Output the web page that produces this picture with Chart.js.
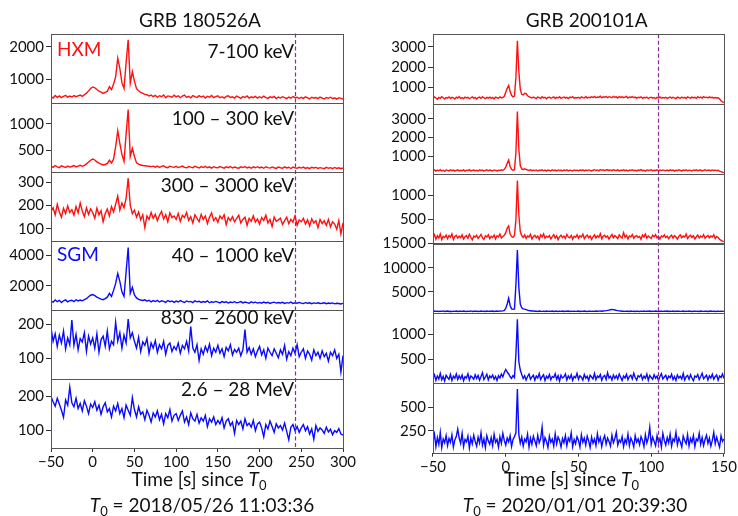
<!DOCTYPE html>
<html>
<head>
<meta charset="utf-8">
<script src="https://cdn.jsdelivr.net/npm/chart.js@4.4.1/dist/chart.umd.min.js"></script>
<style>
  body { margin: 0; background: #fff; width: 738px; height: 516px; position: relative; overflow: hidden; }
  .col { position: absolute; top: 0; width: 369px; height: 516px; }
</style>
</head>
<body>
<div class="col" style="left:0"><canvas id="grb18" width="369" height="516"></canvas></div>
<div class="col" style="left:369px"><canvas id="grb20" width="369" height="516"></canvas></div>
<script>
// ---- GRB 180526A (left column), time in s since T0 ----
const leftTimes = [
  -50,-47.5,-45,-42.5,-40,-37.5,-35,-32.5,-30,-27.5,
  -25,-22.5,-20,-17.5,-15,-12.5,-10,-7.5,-5,-2.5,
  0,2.5,5,7.5,10,12.5,15,17.5,20,22.5,
  25,27.5,30,32.5,35,37.5,40,42.5,45,47.5,
  50,52.5,55,57.5,60,62.5,65,67.5,70,72.5,
  75,77.5,80,82.5,85,87.5,90,92.5,95,97.5,
  100,102.5,105,107.5,110,112.5,115,117.5,120,122.5,
  125,127.5,130,132.5,135,137.5,140,142.5,145,147.5,
  150,152.5,155,157.5,160,162.5,165,167.5,170,172.5,
  175,177.5,180,182.5,185,187.5,190,192.5,195,197.5,
  200,202.5,205,207.5,210,212.5,215,217.5,220,222.5,
  225,227.5,230,232.5,235,237.5,240,242.5,245,247.5,
  250,252.5,255,257.5,260,262.5,265,267.5,270,272.5,
  275,277.5,280,282.5,285,287.5,290,292.5,295,297.5,
  300
];
const hxm7to100_18 = [
  470,430,505,450,495,440,480,510,455,490,
  460,505,470,495,520,480,530,580,650,720,
  770,745,690,640,610,570,600,640,780,690,
  860,1080,1650,1340,900,720,1500,2220,880,1240,
  950,720,650,600,570,540,530,490,520,470,
  510,455,500,470,525,440,495,480,455,515,
  465,500,440,490,520,450,480,435,505,470,
  445,500,460,490,430,485,455,510,440,475,
  495,440,470,425,480,500,445,465,430,490,
  455,420,475,445,495,430,465,440,480,425,
  470,435,490,445,420,465,440,480,415,460,
  430,470,445,410,460,425,475,440,455,415,
  450,420,465,435,405,455,425,445,410,460,
  430,400,445,420,455,410,435,395,440,420,
  400
];
const hxm100to300_18 = [
  195,175,210,185,170,205,190,172,200,180,
  192,210,185,200,215,195,215,240,275,310,
  333,315,280,255,235,220,230,250,310,260,
  330,569,868,630,420,287,800,1270,380,535,
  380,260,235,220,210,205,200,196,190,198,
  180,200,172,195,205,178,170,198,185,176,
  195,172,186,200,175,166,192,180,170,196,
  178,164,190,172,195,168,184,160,188,172,
  166,190,175,160,186,170,192,164,182,168,
  160,186,172,190,164,180,158,184,168,188,
  164,180,158,186,170,162,184,168,156,180,
  168,158,184,164,178,154,180,166,160,176,
  162,180,156,172,152,178,164,174,154,170,
  162,150,176,158,170,152,174,156,168,150,
  165
];
const hxm300to3000_18 = [
  175,190,160,205,172,150,188,165,198,170,
  182,158,195,168,210,176,152,190,162,185,
  170,145,188,160,178,130,165,185,155,195,
  172,205,240,180,210,190,230,317,200,165,
  180,150,172,138,160,105,155,140,170,145,
  162,135,158,175,142,160,130,168,148,155,
  140,165,132,158,148,170,136,152,125,160,
  145,130,162,140,155,122,150,168,135,148,
  128,155,142,160,118,148,135,152,130,145,
  158,125,140,150,115,145,132,155,128,142,
  120,148,135,158,125,140,110,150,132,138,
  145,118,135,150,122,140,128,155,115,138,
  130,145,120,138,112,142,125,135,105,140,
  122,135,115,140,108,130,120,98,135,78,
  125
];
const sgm40to1000_18 = [
  990,920,1060,950,1040,900,1010,1070,940,1020,
  1050,960,1080,1000,1060,1010,1090,1150,1280,1380,
  1420,1350,1250,1180,1120,1080,1150,1250,1500,1300,
  1700,2160,2820,2300,1600,1300,2900,4530,1500,1900,
  1400,1200,1100,1060,1030,1080,990,1050,940,1020,
  960,1040,930,1010,970,900,1030,950,1000,910,
  990,930,1020,950,900,1000,940,970,890,1010,
  940,980,900,960,920,1000,880,950,910,970,
  920,870,960,900,940,860,930,890,950,880,
  910,960,870,930,890,850,940,880,920,860,
  900,850,930,870,910,840,890,920,860,900,
  870,910,840,890,860,920,830,880,850,900,
  860,830,890,850,880,820,870,840,880,830,
  850,880,820,860,830,870,810,850,830,800,
  840
];
const sgm830to2600_18 = [
  190,150,172,135,168,145,180,128,160,140,
  212,138,170,125,158,148,175,120,165,142,
  160,130,172,118,155,165,135,180,128,150,
  140,206,150,175,130,168,145,215,160,175,
  150,130,162,120,148,138,158,115,145,130,
  152,118,140,128,150,112,138,145,120,135,
  125,145,115,138,128,150,122,193,130,118,
  140,94,128,112,135,120,142,108,130,118,
  138,115,128,105,132,122,140,110,126,118,
  130,108,125,184,118,132,112,128,105,122,
  135,110,125,100,130,118,108,128,115,102,
  125,112,138,98,120,108,130,115,140,105,
  118,128,100,122,112,95,125,108,118,100,
  122,105,115,92,118,108,125,100,112,60,
  108
];
const sgm2600to28000_18 = [
  200,185,172,195,178,160,139,190,175,228,
  182,170,195,165,180,158,188,172,150,178,
  168,185,160,175,148,170,182,155,165,140,
  172,158,180,150,165,138,175,160,145,197,
  162,140,170,148,155,132,160,145,125,152,
  140,158,132,148,120,150,138,162,128,145,
  150,130,145,158,125,140,118,152,135,128,
  148,122,138,128,145,112,135,125,140,118,
  130,120,138,108,128,135,115,125,92,130,
  118,128,105,135,115,122,110,130,100,120,
  125,108,82,118,105,128,112,95,120,108,
  115,102,122,98,73,110,118,100,112,95,
  108,118,100,112,90,105,75,115,98,108,
  102,92,110,96,104,88,100,95,106,90,
  87
];

// ---- GRB 200101A (right column), 1 s bins ----
const rightTimes = [
  -50,-49,-48,-47,-46,-45,-44,-43,-42,-41,
  -40,-39,-38,-37,-36,-35,-34,-33,-32,-31,
  -30,-29,-28,-27,-26,-25,-24,-23,-22,-21,
  -20,-19,-18,-17,-16,-15,-14,-13,-12,-11,
  -10,-9,-8,-7,-6,-5,-4,-3,-2,-1,
  0,1,2,3,4,5,6,7,8,9,
  10,11,12,13,14,15,16,17,18,19,
  20,21,22,23,24,25,26,27,28,29,
  30,31,32,33,34,35,36,37,38,39,
  40,41,42,43,44,45,46,47,48,49,
  50,51,52,53,54,55,56,57,58,59,
  60,61,62,63,64,65,66,67,68,69,
  70,71,72,73,74,75,76,77,78,79,
  80,81,82,83,84,85,86,87,88,89,
  90,91,92,93,94,95,96,97,98,99,
  100,101,102,103,104,105,106,107,108,109,
  110,111,112,113,114,115,116,117,118,119,
  120,121,122,123,124,125,126,127,128,129,
  130,131,132,133,134,135,136,137,138,139,
  140,141,142,143,144,145,146,147,148,149,
  150
];
const hxmA_20 = [
  440,520,470,410,500,455,530,480,420,495,
  465,525,440,500,475,415,510,460,535,450,
  490,430,515,470,505,440,480,525,455,500,
  420,485,510,450,530,470,435,500,465,515,
  450,495,420,510,480,460,525,470,500,550,
  750,950,1085,800,600,520,560,1500,3300,1800,
  900,650,620,700,680,580,540,500,470,520,
  480,440,515,490,455,530,470,505,430,495,
  510,460,485,525,445,500,470,535,455,490,
  520,465,500,440,510,480,530,455,495,470,
  505,450,525,490,470,540,460,510,485,530,
  495,545,480,520,500,555,475,530,510,545,
  490,535,515,480,550,505,525,470,540,500,
  530,485,515,545,470,520,495,535,480,510,
  460,505,485,525,450,500,470,515,445,490,
  510,460,495,435,500,475,520,455,490,470,
  505,445,485,520,460,500,475,440,510,480,
  455,515,470,500,440,525,485,460,510,475,
  500,450,530,480,515,465,540,490,510,470,
  525,485,505,460,495,470,480,420,330,280,
  240
];
const hxmB_20 = [
  230,270,205,255,220,280,210,250,195,265,
  240,215,275,225,260,200,245,270,215,250,
  225,265,205,255,235,280,215,245,260,220,
  250,210,270,230,255,205,240,275,220,260,
  235,205,265,240,215,255,230,270,245,300,
  420,620,800,450,300,250,280,1200,3400,1400,
  500,320,280,330,300,260,245,275,225,255,
  230,265,210,250,240,275,220,255,205,260,
  245,215,270,230,255,210,265,235,250,220,
  260,230,275,215,250,240,205,265,235,255,
  220,260,240,275,210,255,230,265,245,215,
  250,280,235,265,220,285,245,270,230,260,
  275,240,265,225,280,250,235,270,215,255,
  240,270,225,260,210,255,245,275,230,250,
  215,260,240,280,225,250,205,265,235,255,
  270,220,250,240,275,210,260,230,265,245,
  225,255,215,270,240,260,205,250,235,275,
  245,215,260,230,270,220,255,240,210,265,
  235,275,225,250,260,215,245,270,230,255,
  250,225,265,240,255,230,245,205,170,140,
  120
];
const hxmC_20 = [
  140,190,95,165,120,200,85,155,130,180,
  105,170,135,205,90,150,175,115,160,125,
  185,100,145,170,115,195,135,80,160,140,
  175,110,150,195,125,90,165,140,185,105,
  155,130,180,100,165,140,200,120,150,175,
  230,320,370,200,150,135,170,500,1309,600,
  250,170,130,185,110,160,140,195,100,150,
  175,125,160,90,185,140,205,115,155,135,
  170,100,150,190,120,165,85,145,180,130,
  160,110,195,140,125,175,95,155,135,185,
  115,165,140,200,105,150,180,125,160,90,
  145,185,120,165,135,210,100,155,175,130,
  160,95,150,195,125,170,140,105,185,145,
  120,230,135,175,100,160,145,190,115,155,
  170,130,150,90,180,140,200,120,160,135,
  110,175,145,190,125,155,95,165,140,185,
  130,160,105,150,180,120,170,140,95,155,
  185,125,160,140,200,110,150,175,130,165,
  100,145,180,120,160,135,190,115,150,170,
  125,160,140,185,110,150,130,95,70,55,
  45
];
const sgmA_20 = [
  1000,1060,980,1030,950,1040,990,1070,960,1020,
  1050,970,1010,940,1030,990,1060,960,1000,1040,
  980,1050,1000,960,1030,990,1070,950,1020,1000,
  1040,970,1010,1060,980,1020,950,1050,990,1030,
  1000,1060,970,1020,1050,990,1080,1040,1100,1200,
  1600,2500,3700,2200,1500,1400,1500,6500,13660,6000,
  2500,1700,1500,1450,1350,1250,1150,1100,1050,1080,
  1000,1040,970,1060,1010,980,1030,960,1050,990,
  1020,980,1050,970,1010,1040,960,1030,990,1060,
  970,1020,1000,1050,960,1030,990,1040,980,1010,
  1050,970,1020,990,1060,1000,960,1040,1010,980,
  1030,990,1060,1010,1040,1070,1020,1060,1090,1130,
  1180,1250,1320,1370,1340,1270,1200,1130,1080,1050,
  1010,1040,980,1030,1000,970,1050,990,1020,960,
  1040,1000,970,1030,990,1060,980,1020,1000,1050,
  960,1030,990,1060,1000,970,1040,1010,980,1030,
  1000,1050,970,1020,990,1060,960,1030,1000,1040,
  980,1010,1050,970,1030,990,1060,1000,960,1020,
  1040,990,1020,970,1050,1000,980,1030,1010,960,
  1020,1050,990,1030,970,1000,1040,980,1010,990,
  1000
];
const sgmB_20 = [
  120,185,75,160,100,210,85,150,60,175,
  130,95,190,70,155,115,200,90,165,105,
  180,65,145,120,205,80,160,135,95,185,
  110,170,75,150,225,90,140,195,80,160,
  125,180,95,150,70,165,120,200,140,230,
  290,240,200,150,110,170,130,600,1300,450,
  280,190,110,165,80,150,200,95,140,175,
  75,160,120,210,90,145,185,70,155,115,
  190,85,150,130,205,95,165,60,175,120,
  145,200,80,160,110,185,70,150,125,215,
  95,165,135,80,190,115,155,70,175,140,
  100,210,85,160,130,190,75,145,170,90,
  225,120,155,80,180,110,165,95,200,135,
  70,160,120,195,85,150,175,100,215,130,
  80,165,140,190,90,155,115,200,75,170,
  130,95,185,115,160,70,150,205,100,140,
  175,85,160,125,195,90,150,70,180,120,
  155,100,210,80,145,170,95,185,120,65,
  160,135,190,90,150,215,105,140,175,80,
  165,120,195,95,145,180,75,160,130,200,
  110
];
const sgmC_20 = [
  140,215,85,180,110,235,75,165,125,200,
  95,170,130,210,80,155,190,270,175,120,
  225,85,160,135,195,70,175,115,205,140,
  90,185,125,230,100,165,75,200,145,110,
  180,95,215,130,160,80,190,120,225,150,
  100,175,135,200,85,160,190,230,690,210,
  120,185,90,165,135,215,80,175,110,195,
  145,95,205,125,170,290,100,180,140,75,
  195,130,165,90,220,115,185,150,80,170,
  125,200,95,175,140,230,85,160,115,190,
  150,80,210,130,175,100,195,145,75,185,
  120,165,95,220,135,180,85,160,200,110,
  175,140,90,205,125,170,235,100,155,130,
  190,85,160,120,215,95,175,140,80,200,
  130,165,105,190,150,85,210,125,175,290,
  110,185,140,95,200,130,170,80,225,150,
  100,180,125,215,90,165,140,235,105,175,
  135,80,195,150,115,210,90,170,130,200,
  85,165,145,225,110,180,95,160,205,120,
  175,90,150,235,115,185,130,80,200,140,
  165
];

const leftBands = ['7-100 keV', '100 \u2013 300 keV', '300 \u2013 3000 keV', '40 \u2013 1000 keV', '830 \u2013 2600 keV', '2.6 \u2013 28 MeV'];
const titles = ['GRB 180526A', 'GRB 200101A'];
const t0Labels = ['2018/05/26 11:03:36', '2020/01/01 20:39:30'];
const xTicksLeft = [-50, 0, 50, 100, 150, 200, 250, 300];
const xTicksRight = [-50, 0, 50, 100, 150];
const markerTimes = [243, 105];

const RED = '#ff1010';
const BLUE = '#0a0aff';
const FONT = 'Lato, "Open Sans", sans-serif';
const INK = '#111';

const fmt = (v) => (v < 0 ? '\u2212' + Math.abs(v) : String(v));

const columns = [
  {
    id: 'grb18', times: leftTimes, xMin: -50, xMax: 300, xTicks: xTicksLeft,
    padding: { top: 33.5, left: 0, right: 26, bottom: 38 }, yWidth: 51,
    marker: markerTimes[0], title: titles[0], t0: t0Labels[0],
    titleX: 200, xlabelX: 199, t0X: 202,
    panels: [
      { values: hxm7to100_18, color: RED, min: 290, max: 2410, ticks: [1000, 2000] },
      { values: hxm100to300_18, color: RED, min: 94, max: 1400, ticks: [500, 1000] },
      { values: hxm300to3000_18, color: RED, min: 48.5, max: 345, ticks: [100, 200, 300] },
      { values: sgm40to1000_18, color: BLUE, min: 413, max: 4980, ticks: [2000, 4000] },
      { values: sgm830to2600_18, color: BLUE, min: 40, max: 242, ticks: [100, 200] },
      { values: sgm2600to28000_18, color: BLUE, min: 49, max: 252, ticks: [100, 200] },
    ],
    bands: leftBands,
  },
  {
    id: 'grb20', times: rightTimes, xMin: -50, xMax: 150, xTicks: xTicksRight,
    padding: { top: 34.3, left: 0, right: 11, bottom: 33.3 }, yWidth: 64,
    marker: markerTimes[1], title: titles[1], t0: t0Labels[1],
    titleX: 217.7, xlabelX: 202.5, t0X: 206,
    panels: [
      { values: hxmA_20, color: RED, min: 170, max: 3620, ticks: [1000, 2000, 3000] },
      { values: hxmB_20, color: RED, min: 60, max: 3800, ticks: [1000, 2000, 3000] },
      { values: hxmC_20, color: RED, min: 6, max: 1447, ticks: [500, 1000] },
      { values: sgmA_20, color: BLUE, min: 600, max: 15000, ticks: [5000, 10000, 15000] },
      { values: sgmB_20, color: BLUE, min: 20, max: 1420, ticks: [500, 1000] },
      { values: sgmC_20, color: BLUE, min: 21, max: 754, ticks: [250, 500] },
    ],
    bands: null,
  },
];

// frames, marker line, in-panel labels, titles and x label
const decor = {
  id: 'decor',
  afterDraw(chart, args, opts) {
    const col = opts.col;
    const ctx = chart.ctx;
    const area = chart.chartArea;
    const ys = col.panels.map((p, k) => chart.scales['y' + k]);
    ctx.save();

    // dashed marker
    const mx = Math.round(chart.scales.x.getPixelForValue(col.marker)) + 0.5;
    ctx.strokeStyle = '#8b2a9a';
    ctx.lineWidth = 1.2;
    ctx.setLineDash([4, 2.5]);
    ctx.beginPath();
    ctx.moveTo(mx, area.top);
    ctx.lineTo(mx, area.bottom);
    ctx.stroke();
    ctx.setLineDash([]);

    // panel frames
    ctx.strokeStyle = '#555';
    ctx.lineWidth = 1;
    ys.forEach((s) => {
      ctx.strokeRect(Math.round(area.left) + 0.5, Math.round(s.top) + 0.5,
        Math.round(area.right - area.left), Math.round(s.bottom - s.top));
    });

    ctx.textBaseline = 'middle';
    if (col.bands) {
      const dy = [18, 16, 14, 15, 8.5, 10.5];
      ctx.font = '19px ' + FONT;
      ctx.fillStyle = INK;
      ctx.textAlign = 'right';
      col.bands.forEach((b, k) => ctx.fillText(b, area.right - 49, ys[k].top + dy[k]));
      ctx.textAlign = 'left';
      ctx.fillStyle = RED;
      ctx.fillText('HXM', area.left + 6, ys[0].top + 16.5);
      ctx.fillStyle = BLUE;
      ctx.fillText('SGM', area.left + 6, ys[3].top + 14);
    }

    // title
    ctx.fillStyle = INK;
    ctx.textAlign = 'center';
    ctx.font = '19px ' + FONT;
    ctx.fillText(col.title, col.titleX, 21);

    // "Time [s] since T0" and "T0 = ..."
    const drawT0Line = (parts, cx, cy) => {
      ctx.textAlign = 'left';
      const widths = parts.map((p) => { ctx.font = p.font; return ctx.measureText(p.text).width; });
      let x = cx - widths.reduce((a, b) => a + b, 0) / 2;
      parts.forEach((p, i) => {
        ctx.font = p.font;
        ctx.fillText(p.text, x, cy + (p.dy || 0));
        x += widths[i];
      });
    };
    const reg = '19px ' + FONT, ital = 'italic 19px ' + FONT, sub = '13px ' + FONT;
    drawT0Line([
      { text: 'Time [s] since ', font: reg },
      { text: 'T', font: ital },
      { text: '0', font: sub, dy: 6 },
    ], col.xlabelX, 480);
    drawT0Line([
      { text: 'T', font: ital },
      { text: '0', font: sub, dy: 6 },
      { text: ' = ' + col.t0, font: reg },
    ], col.t0X, 506);

    ctx.restore();
  },
};

function buildColumn(col) {
  const tickFont = { family: FONT, size: 15 };
  const scales = {
    x: {
      type: 'linear', min: col.xMin, max: col.xMax,
      afterBuildTicks: (a) => { a.ticks = col.xTicks.map((v) => ({ value: v })); },
      afterFit: (a) => { a.height = 30; },
      ticks: { font: tickFont, color: INK, padding: 1, maxRotation: 0, autoSkip: false, callback: fmt },
      grid: { drawOnChartArea: false, tickLength: 4, color: '#333' },
      border: { display: false },
    },
  };
  col.panels.forEach((p, k) => {
    scales['y' + k] = {
      type: 'linear', position: 'left', stack: 'col', stackWeight: 1, weight: 6 - k,
      min: p.min, max: p.max,
      afterBuildTicks: (a) => { a.ticks = p.ticks.map((v) => ({ value: v })); },
      afterFit: (a) => { a.width = col.yWidth; },
      ticks: { font: tickFont, color: INK, padding: 2, autoSkip: false, callback: fmt },
      grid: { drawOnChartArea: false, tickLength: 5, color: '#333' },
      border: { display: false },
    };
  });

  const datasets = col.panels.map((p, k) => ({
    data: col.times.map((t, i) => ({ x: t, y: p.values[i] })),
    yAxisID: 'y' + k,
    borderColor: p.color,
    borderWidth: 1.4,
    pointRadius: 0,
    tension: 0,
  }));

  return new Chart(document.getElementById(col.id), {
    type: 'line',
    data: { datasets },
    options: {
      responsive: false,
      animation: false,
      layout: { padding: col.padding },
      scales,
      plugins: { legend: { display: false }, tooltip: { enabled: false }, decor: { col } },
    },
    plugins: [decor],
  });
}

columns.forEach(buildColumn);
</script>
</body>
</html>
